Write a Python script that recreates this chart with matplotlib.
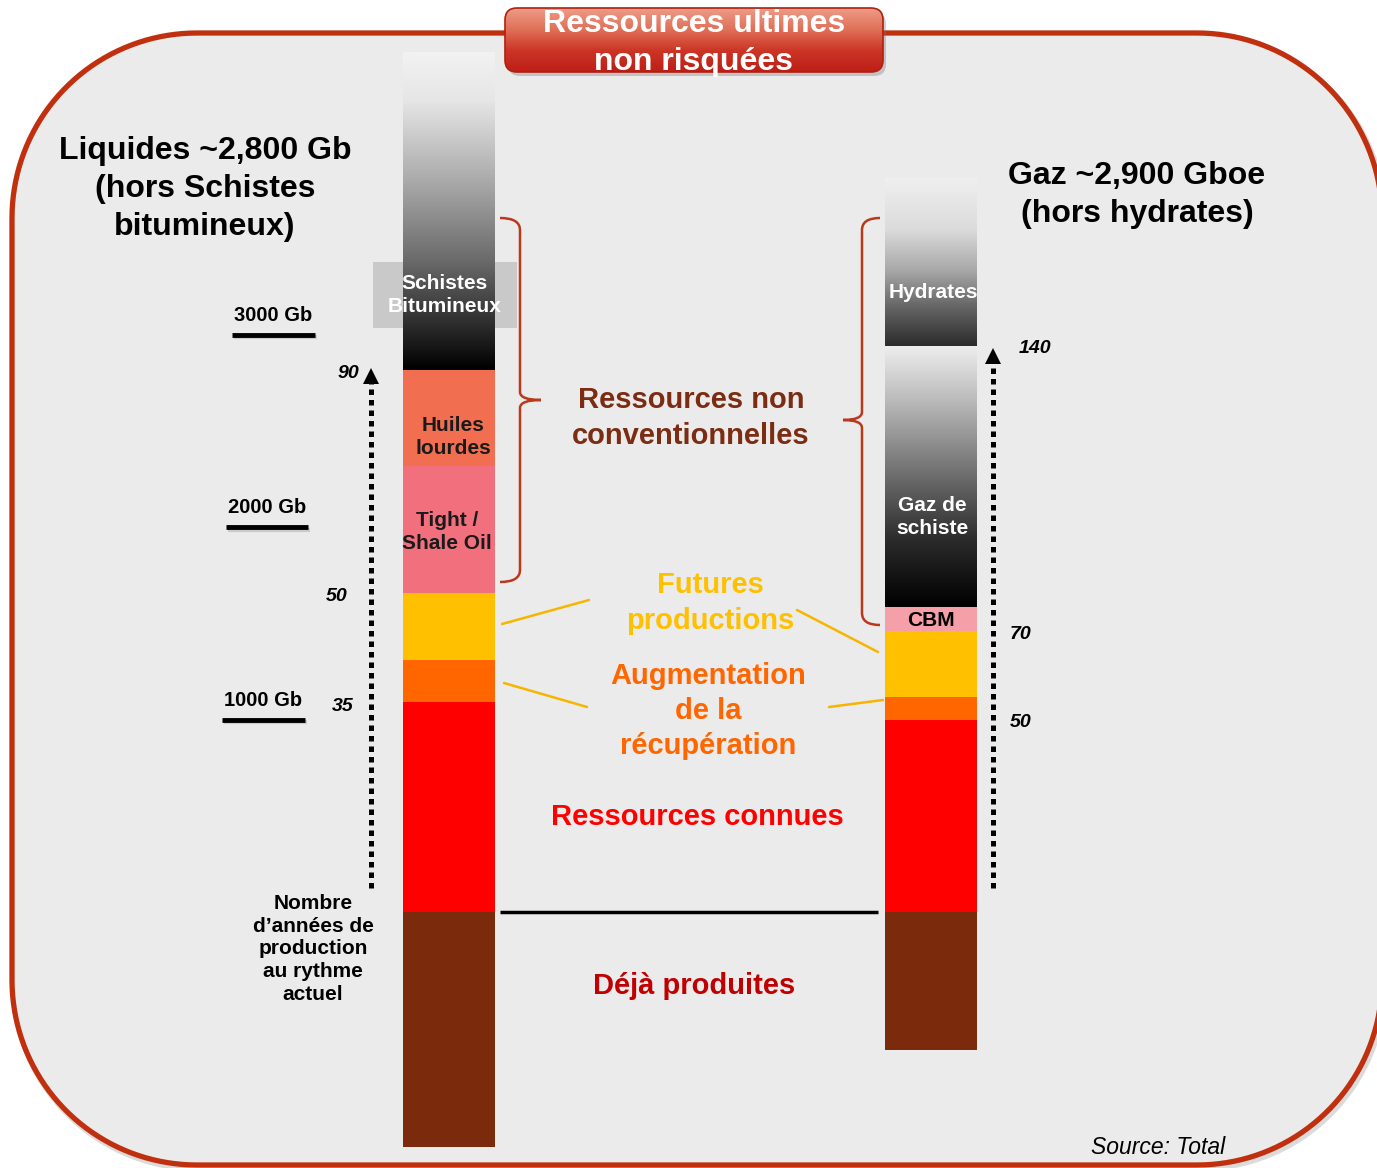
import numpy as np
import matplotlib.pyplot as plt
from matplotlib.patches import FancyBboxPatch, PathPatch, Rectangle, Polygon
from matplotlib.path import Path
from matplotlib.colors import LinearSegmentedColormap

plt.rcParams['font.family'] = ['Liberation Sans', 'DejaVu Sans']

# ---- data (Gb / Gboe), from bottom to top of each column
liq_labels = ['Déjà produites', 'Ressources connues', 'Augmentation de la récupération',
              'Futures productions', 'Tight / Shale Oil', 'Huiles lourdes', 'Schistes Bitumineux']
liq_values = [1220, 1090, 220, 350, 660, 500, 1650]
liq_colors = ['#7B2A0C', '#FF0000', '#FF6600', '#FFC000', '#F2707E', '#F26E50', None]

gas_labels = ['Déjà produites', 'Ressources connues', 'Augmentation de la récupération',
              'Futures productions', 'CBM', 'Gaz de schiste', 'Hydrates']
gas_values = [720, 1000, 120, 340, 125, 1360, 870]
gas_colors = ['#7B2A0C', '#FF0000', '#FF6600', '#FFC000', '#F5A0A8', None, None]

scale_ticks = [1000, 2000, 3000]
scale_labels = ['1000 Gb', '2000 Gb', '3000 Gb']

# years of production at current rate, attached to the top of a segment
liq_years = ['35', '50', '90']
liq_year_seg = [1, 3, 5]
gas_years = ['50', '70', '140']
gas_year_seg = [1, 3, 5]

# ---- layout
W, H = 1377, 1168
BASE = 912      # pixel row of 0 Gb
GB_PX = 5.2     # Gb per pixel
BAR_W = 92
X_LIQ, X_GAS = 449, 931
RED = '#C0300F'
BRACE = '#B8391B'
LINE_Y = '#F7B500'

fig = plt.figure(figsize=(13.77, 11.68), dpi=100)
fig.patch.set_facecolor('white')
bg = fig.add_axes([0, 0, 1, 1], zorder=0)
bx = fig.add_axes([0, 0, 1, 1], zorder=1)
ax = fig.add_axes([0, 0, 1, 1], zorder=2)
for a in (bg, bx, ax):
    a.set_axis_off()
    a.patch.set_visible(False)
bg.set_xlim(0, W)
bg.set_ylim(H, 0)


def rounded_rect(x0, y0, x1, y1, r, n=40):
    pts = []
    for cx, cy, t0 in [(x0 + r, y0 + r, 180), (x1 - r, y0 + r, 270),
                       (x1 - r, y1 - r, 0), (x0 + r, y1 - r, 90)]:
        t = np.radians(np.linspace(t0, t0 + 90, n))
        pts += list(zip(cx + r * np.cos(t), cy + r * np.sin(t)))
    return np.array(pts)


# background frame
frame = rounded_rect(12, 33, 1382, 1165, 185)
bg.add_patch(Polygon(frame + [2, 3], closed=True, fc='none', ec='#999999', lw=5, alpha=0.35))
bg.add_patch(Polygon(frame, closed=True, fc='#EBEBEB', ec=RED, lw=3.8))

# label box behind schistes bitumineux
bg.add_patch(Rectangle((373, 262), 144, 66, fc='#C9C9C9', ec='none'))


# ---- stacked columns
def column(x, values, colors, cmaps):
    values = np.array(values, dtype=float)
    rest = values[1:]
    bottoms = np.concatenate([[-values[0]], [0], np.cumsum(rest)[:-1]])
    face = [c if c is not None else 'none' for c in colors]
    bars = bx.bar(x, values, width=BAR_W, bottom=bottoms, color=face, edgecolor='none')
    grad = np.linspace(0, 1, 256).reshape(-1, 1)
    for rect, cm in zip(bars, cmaps):
        if cm is None:
            continue
        x0, y0 = rect.get_x(), rect.get_y()
        im = bx.imshow(grad, cmap=cm, origin='lower', aspect='auto',
                       extent=[x0, x0 + rect.get_width(), y0, y0 + rect.get_height()])
        im.set_clip_path(rect)
    return bottoms + values


cm_schistes = LinearSegmentedColormap.from_list('sch', [(0, '#000000'), (0.12, '#262626'),
                                                        (0.35, '#6c6c6c'), (0.6, '#ababab'),
                                                        (0.85, '#e6e6e6'), (1, '#f2f2f2')])
cm_gaz = LinearSegmentedColormap.from_list('gaz', [(0, '#000000'), (0.25, '#2a2a2a'),
                                                   (0.55, '#7a7a7a'), (0.8, '#bdbdbd'),
                                                   (1, '#eeeeee')])
cm_hyd = LinearSegmentedColormap.from_list('hyd', [(0, '#2b2b2b'), (0.25, '#6a6a6a'),
                                                   (0.45, '#a8a8a8'), (0.7, '#dcdcdc'),
                                                   (1, '#efefef')])

liq_tops = column(X_LIQ, liq_values, liq_colors, [None] * 6 + [cm_schistes])
gas_tops = column(X_GAS, gas_values, gas_colors, [None] * 5 + [cm_gaz, cm_hyd])

# line separating produced / remaining
bx.hlines(0, 500, 878, color='black', lw=2.5)

# scale markers
for v, lab, x0, x1 in zip(scale_ticks, scale_labels, [222, 226, 232], [305, 308, 315]):
    bx.hlines(v - 12, x0 + 2, x1 + 2, color='#999999', lw=3, alpha=0.4)
    bx.hlines(v, x0, x1, color='black', lw=3.5)
    bx.annotate(lab, ((x0 + x1) / 2, v), xytext=(0, 14), textcoords='offset points',
                ha='center', va='center', fontsize=14.5, fontweight='bold')

# years labels
for lab, seg, x in zip(liq_years, liq_year_seg, [343, 337, 348]):
    bx.annotate(lab, (x, liq_tops[seg]), xytext=(0, -3), textcoords='offset points',
                ha='center', va='center', fontsize=14, fontweight='bold', style='italic')
for lab, seg, x in zip(gas_years, gas_year_seg, [1021, 1021, 1035]):
    bx.annotate(lab, (x, gas_tops[seg]), xytext=(0, -2), textcoords='offset points',
                ha='center', va='center', fontsize=14, fontweight='bold', style='italic')

bx.set_xlim(0, W)
bx.set_ylim((BASE - H) * GB_PX, BASE * GB_PX)

# ---- annotations (pixel coordinates)
ax.set_xlim(0, W)
ax.set_ylim(H, 0)

# title box
tb_shadow = FancyBboxPatch((508, 12), 378, 64, boxstyle='round,pad=0,rounding_size=12',
                           fc='#777777', ec='none', alpha=0.35, zorder=0.5)
ax.add_patch(tb_shadow)
tb = FancyBboxPatch((505, 8), 378, 64, boxstyle='round,pad=0,rounding_size=12',
                    fc='none', ec='#B02010', lw=1.2, zorder=1.2)
ax.add_patch(tb)
cm_title = LinearSegmentedColormap.from_list('tt', ['#EE9C88', '#E07058', '#CC3526', '#BE1E16'])
im = ax.imshow(np.linspace(0, 1, 128).reshape(-1, 1), cmap=cm_title, aspect='auto',
               extent=[505, 883, 72, 8], origin='upper', zorder=1)
im.set_clip_path(tb)
ax.text(694, 43, 'Ressources ultimes\nnon risquées', ha='center', va='center', color='white',
        fontsize=23, fontweight='bold', linespacing=1.36, zorder=3)

# column titles
ax.text(205, 189, 'Liquides ~2,800 Gb\n(hors Schistes\nbitumineux)', ha='center', va='center',
        fontsize=23, fontweight='bold', linespacing=1.36)
ax.text(1137, 195, 'Gaz ~2,900 Gboe\n(hors hydrates)', ha='center', va='center',
        fontsize=23, fontweight='bold', linespacing=1.36)

# labels inside bars
ax.text(445, 295, 'Schistes\nBitumineux', ha='center', va='center', color='white',
        fontsize=15, fontweight='bold', linespacing=1.22)
ax.text(453, 437, 'Huiles\nlourdes', ha='center', va='center', color='#1a1a1a',
        fontsize=15, fontweight='bold', linespacing=1.22)
ax.text(447, 532, 'Tight /\nShale Oil', ha='center', va='center', color='#1a1a1a',
        fontsize=15, fontweight='bold', linespacing=1.25)
ax.text(933, 293, 'Hydrates', ha='center', va='center', color='white',
        fontsize=15, fontweight='bold')
ax.text(932, 517, 'Gaz de\nschiste', ha='center', va='center', color='white',
        fontsize=15, fontweight='bold', linespacing=1.25)
ax.text(931, 621, 'CBM', ha='center', va='center', color='black',
        fontsize=15, fontweight='bold')

# middle category labels
ax.text(691, 418, 'Ressources non\nconventionnelles', ha='center', va='center', color='#7B2C12',
        fontsize=21, fontweight='bold', linespacing=1.32)
ax.text(710, 603, 'Futures\nproductions', ha='center', va='center', color='#FFC000',
        fontsize=21, fontweight='bold', linespacing=1.32)
ax.text(708, 711, 'Augmentation\nde la\nrécupération', ha='center', va='center', color='#FF6600',
        fontsize=21, fontweight='bold', linespacing=1.34)
ax.text(697, 817, 'Ressources connues', ha='center', va='center', color='#FF0000',
        fontsize=21, fontweight='bold')
ax.text(694, 986, 'Déjà produites', ha='center', va='center', color='#C00000',
        fontsize=21, fontweight='bold')

# connector lines
for (xa, ya), (xb, yb) in [((502, 624), (589, 600)), ((797, 610), (878, 652)),
                           ((504, 683), (587, 707)), ((829, 707), (883, 700))]:
    ax.plot([xa, xb], [ya, yb], color=LINE_Y, lw=1.8, solid_capstyle='round')


# braces
def brace(x_top, x_spine, x_tip, y0, y_tip, y1):
    k = 12
    verts = [(x_top, y0), (x_spine, y0), (x_spine, y0 + k),
             (x_spine, y_tip - 8), (x_spine, y_tip), (x_tip, y_tip),
             (x_spine, y_tip), (x_spine, y_tip + 8),
             (x_spine, y1 - k), (x_spine, y1), (x_top, y1)]
    codes = [Path.MOVETO, Path.CURVE3, Path.CURVE3,
             Path.LINETO, Path.CURVE3, Path.CURVE3,
             Path.CURVE3, Path.CURVE3,
             Path.LINETO, Path.CURVE3, Path.CURVE3]
    ax.add_patch(PathPatch(Path(verts, codes), fc='none', ec=BRACE, lw=1.8))


brace(500, 520, 541, 218, 400, 582)
brace(880, 862, 843, 218, 420, 625)

# dotted arrows (years of production)
for x, y_tip in [(371, 368), (993, 348)]:
    ax.plot([x, x], [888, y_tip + 14], color='black', lw=3.6, linestyle=(0, (1.1, 1.0)),
            dash_capstyle='butt')
    ax.add_patch(Polygon([(x - 8, y_tip + 16), (x + 8, y_tip + 16), (x, y_tip)],
                         closed=True, fc='black', ec='none'))

ax.text(313, 949, 'Nombre\nd\u2019années de\nproduction\nau rythme\nactuel', ha='center',
        va='center', fontsize=15, fontweight='bold', linespacing=1.25)

ax.text(1158, 1147, 'Source: Total', ha='center', va='center', fontsize=16.5, style='italic')

ax.set_xlim(0, W)
ax.set_ylim(H, 0)

fig.savefig('out.png', dpi=100)
